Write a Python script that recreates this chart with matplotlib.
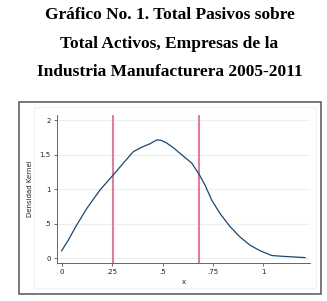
import numpy as np
import matplotlib
matplotlib.use("Agg")
import matplotlib.pyplot as plt
from matplotlib.patches import Rectangle

title_lines = ["Gráfico No. 1. Total Pasivos sobre",
               "Total Activos, Empresas de la",
               "Industria Manufacturera 2005-2011"]

# kernel density curve
x_vals = [0.0, 0.033, 0.074, 0.124, 0.19, 0.256, 0.306, 0.355, 0.397, 0.438,
          0.471, 0.493, 0.521, 0.555, 0.587, 0.645, 0.683, 0.711, 0.744, 0.785,
          0.835, 0.884, 0.934, 0.984, 1.042, 1.10, 1.149, 1.207]
y_vals = [0.11, 0.265, 0.48, 0.72, 0.99, 1.21, 1.38, 1.545, 1.61, 1.66,
          1.715, 1.71, 1.67, 1.60, 1.52, 1.38, 1.21, 1.06, 0.845, 0.65,
          0.46, 0.31, 0.19, 0.11, 0.04, 0.028, 0.02, 0.01]
vlines = [0.255, 0.683]

x_ticks = [0, 0.25, 0.5, 0.75, 1]
x_labels = ["0", ".25", ".5", ".75", "1"]
y_ticks = [0, 0.5, 1, 1.5, 2]
y_labels = ["0", ".5", "1", "1.5", "2"]

W, H = 327, 301
fig = plt.figure(figsize=(W / 100, H / 100), dpi=100)
fig.patch.set_facecolor("white")

for i, t in enumerate(title_lines):
    fig.text(169.5 / W, 1 - (15 + 28.5 * i) / H, t, ha="center", va="center",
             fontsize=12.5, fontweight="bold", family="Liberation Serif")

# outer frame
fig.patches.append(Rectangle((18.5 / W, 1 - 294 / H), (320.5 - 18.5) / W, (294 - 102) / H,
                             transform=fig.transFigure, fill=False,
                             edgecolor="#555555", linewidth=1.1))
# faint inner frame
fig.patches.append(Rectangle((34 / W, 1 - 288 / H), (316 - 34) / W, (288 - 107) / H,
                             transform=fig.transFigure, fill=False,
                             edgecolor="#eef2f5", linewidth=0.8))

x0px, xs = 61.7, 201.6
y0px, ys = 258.3, 69.0
ax_l, ax_r = 57.0, 310.0
ax_t, ax_b = 115.0, 263.0
xmin = (ax_l - x0px) / xs
xmax = (ax_r - x0px) / xs
ymin = (y0px - ax_b) / ys
ymax = (y0px - ax_t) / ys
ax = fig.add_axes([ax_l / W, 1 - ax_b / H, (ax_r - ax_l) / W, (ax_b - ax_t) / H])
ax.set_xlim(xmin, xmax)
ax.set_ylim(ymin, ymax)

for yt in y_ticks:
    ax.axhline(yt, color="#eaf0f4", linewidth=0.8, zorder=0)

ax.plot(x_vals, y_vals, color="#1a476f", linewidth=0.9, zorder=3)
for v in vlines:
    ax.axvline(v, color="#dc7f9b", linewidth=1.5, zorder=2)

for s in ["top", "right"]:
    ax.spines[s].set_visible(False)
for s in ["left", "bottom"]:
    ax.spines[s].set_color("#666666")
    ax.spines[s].set_linewidth(0.7)

ax.set_xticks(x_ticks)
ax.set_xticklabels(x_labels)
ax.set_yticks(y_ticks)
ax.set_yticklabels(y_labels)
ax.tick_params(axis="both", labelsize=5, length=2.5, width=0.6, colors="#555555",
               labelcolor="#222222", pad=2)
ax.set_xlabel("x", fontsize=5, labelpad=3, color="#222222")
ax.set_ylabel("Densidad Kernel", fontsize=5, labelpad=5, color="#222222")

fig.savefig("out.png", dpi=100)
